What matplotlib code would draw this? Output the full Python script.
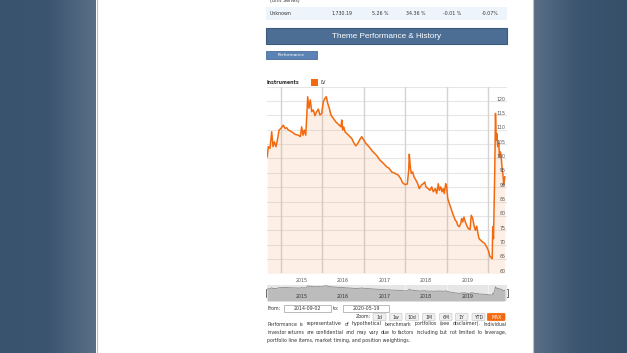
import matplotlib.pyplot as plt
import numpy as np
from matplotlib.patches import Rectangle, FancyBboxPatch
from matplotlib.colors import LinearSegmentedColormap

# LV theme series (decimal years, index value)
years = [2014.682, 2014.706, 2014.747, 2014.788, 2014.820, 2014.851, 2014.892, 2014.933, 2014.964,
         2015.012, 2015.067, 2015.108, 2015.149, 2015.188, 2015.269, 2015.349, 2015.428, 2015.476,
         2015.510, 2015.541, 2015.573, 2015.606, 2015.630, 2015.654, 2015.686, 2015.717, 2015.751,
         2015.789, 2015.830, 2015.871, 2015.910, 2015.950, 2015.991, 2016.030, 2016.071, 2016.102,
         2016.136, 2016.174, 2016.215, 2016.270, 2016.328, 2016.391, 2016.456, 2016.473, 2016.497,
         2016.521, 2016.552, 2016.617, 2016.672, 2016.713, 2016.752, 2016.809, 2016.858, 2016.913,
         2016.954, 2016.992, 2017.057, 2017.129, 2017.209, 2017.315, 2017.394, 2017.474, 2017.555,
         2017.618, 2017.676, 2017.755, 2017.834, 2017.892, 2017.940, 2017.996, 2018.051, 2018.085,
         2018.099, 2018.123, 2018.147, 2018.181, 2018.212, 2018.260, 2018.301, 2018.340, 2018.388,
         2018.436, 2018.470, 2018.501, 2018.556, 2018.597, 2018.638, 2018.677, 2018.725, 2018.758,
         2018.797, 2018.821, 2018.855, 2018.886, 2018.917, 2018.941, 2018.975, 2018.999, 2019.023,
         2019.062, 2019.103, 2019.143, 2019.175, 2019.206, 2019.240, 2019.264, 2019.302, 2019.336,
         2019.360, 2019.384, 2019.415, 2019.447, 2019.480, 2019.519, 2019.560, 2019.591, 2019.625,
         2019.656, 2019.687, 2019.721, 2019.745, 2019.776, 2019.817, 2019.865, 2019.913, 2019.961,
         2020.000, 2020.039, 2020.070, 2020.094, 2020.106, 2020.125, 2020.142, 2020.156, 2020.173,
         2020.190, 2020.204, 2020.228, 2020.252, 2020.269, 2020.293, 2020.317, 2020.334, 2020.349,
         2020.373, 2020.397]
lv_values = [100.6, 104.1, 103.5, 109.3, 104.1, 105.8, 104.1, 107.0, 109.9,
             110.5, 111.6, 110.5, 110.7, 109.9, 109.3, 108.4, 108.1, 107.6,
             111.0, 108.1, 109.9, 108.1, 114.0, 121.5, 117.5, 120.4, 116.3,
             116.9, 114.9, 116.3, 117.2, 115.1, 115.7, 119.8, 121.0, 121.5,
             119.2, 117.5, 115.1, 114.0, 112.8, 111.9, 111.0, 113.4, 109.9,
             111.0, 109.3, 108.4, 107.6, 107.0, 105.8, 104.4, 105.2, 106.7,
             107.6, 106.7, 105.2, 104.1, 102.6, 101.0, 99.4, 98.3, 97.1,
             96.5, 95.3, 94.8, 94.2, 93.0, 91.5, 90.9, 91.1, 96.0,
             101.5, 97.1, 94.8, 95.3, 93.6, 92.4, 91.2, 89.5, 90.7,
             91.2, 91.8, 90.1, 89.5, 88.9, 90.1, 88.4, 89.5, 87.8,
             91.2, 88.9, 90.1, 88.4, 89.5, 87.8, 91.2, 90.1, 86.1,
             84.3, 82.6, 80.8, 79.6, 78.5, 77.9, 76.7, 76.2, 77.3,
             79.1, 77.9, 79.6, 77.9, 76.7, 75.6, 75.2, 80.2, 79.1,
             76.7, 75.0, 76.4, 74.4, 72.1, 71.5, 70.9, 70.4, 69.2,
             68.0, 65.9, 65.5, 65.1, 76.2, 72.0, 85.5, 96.0, 115.7,
             106.4, 108.7, 104.1, 105.3, 100.6, 102.3, 99.4, 96.0, 94.8,
             90.7, 93.6]

year_starts = [2015, 2016, 2017, 2018, 2019, 2020]
year_labels = ['2015', '2016', '2017', '2018', '2019']
y_ticks = list(range(60, 125, 5))

row_cells = ['Unknown', '1,730.19', '5.26 %', '34.36 %', '-0.01 %', '-0.07%']
zoom_buttons = ['1d', '1w', '10d', '1M', '6M', '1Y', 'YTD', 'MAX']
date_from = '2014-09-02'
date_to = '2020-05-19'
note_lines = ['Performance is representative of hypothetical benchmark portfolios (see disclaimer). Individual',
              'investor returns are confidential and may vary due to factors including but not limited to leverage,',
              'portfolio line items, market timing, and position weightings.']

ORANGE = '#f26a10'
W, H = 627, 353
fig = plt.figure(figsize=(W / 100, H / 100), dpi=100)
page = fig.add_axes([0, 0, 1, 1])
page.axis('off')


def fig_rect(x0, y0, x1, y1):
    return [x0 / W, 1 - y1 / H, (x1 - x0) / W, (y1 - y0) / H]


# side gradients
grad_l = LinearSegmentedColormap.from_list('gl', ['#39526e', '#3b546f', '#5a6f87'])
grad_r = LinearSegmentedColormap.from_list('gr', ['#5a6f87', '#3b546f', '#375069'])
g = np.linspace(0, 1, 200).reshape(1, -1)
page.imshow(g, cmap=grad_l, extent=[0, 96, H, 0], aspect='auto')
page.imshow(g, cmap=grad_r, extent=[533, W, H, 0], aspect='auto')
page.plot([96.5, 96.5], [0, H], color='#b8c2cd', lw=0.8)
page.plot([532.8, 532.8], [0, H], color='#b8c2cd', lw=0.8)
page.set_xlim(0, W)
page.set_ylim(H, 0)

small = dict(family='DejaVu Sans', fontsize=3.45, color='#333333')

# table row above
page.text(270, 0.5, '(Unit Series)', va='center', **small)
page.add_patch(Rectangle((266, 7), 241, 13, facecolor='#eef4fb', edgecolor='none'))
cell_x = [270, 342, 380, 416, 452, 490]
for i, (cx, c) in enumerate(zip(cell_x, row_cells)):
    page.text(cx, 13.5, c, ha='left' if i == 0 else 'center', va='center', **small)

# section header
page.add_patch(Rectangle((266, 28.3), 241, 16, facecolor='#4c6e94', edgecolor='#3c5a7c', lw=0.8))
page.text(386.5, 36.6, 'Theme Performance & History', ha='center', va='center',
          family='Liberation Sans', fontsize=5.9, color='white')
page.add_patch(Rectangle((266, 51), 51, 8.3, facecolor='#5b82b5', edgecolor='#4a6d9a', lw=0.6))
page.text(291.5, 55.2, 'Performance', ha='center', va='center', family='DejaVu Sans',
          fontsize=3.1, color='white')

# legend
page.text(267, 82, 'Instruments', ha='left', va='center', family='DejaVu Sans',
          fontsize=3.45, fontweight='bold', color='#333333')
page.add_patch(Rectangle((311, 78.5), 7, 7, facecolor=ORANGE, edgecolor='none'))
page.text(320.5, 82, 'LV', ha='left', va='center', **small)

# main chart
ax = fig.add_axes(fig_rect(267, 86.7, 507, 273.3))
ax.set_xlim(2014.675, 2020.45)
ax.set_ylim(60, 125)
for v in list(y_ticks) + [125]:
    ax.axhline(v, color='#e6e6e6', lw=0.8, zorder=0)
for ys in year_starts:
    ax.axvline(ys, color='#d4d4d4', lw=1.0, zorder=0)
ax.fill_between(years, lv_values, 60, color=ORANGE, alpha=0.1, lw=0, zorder=1)
ax.plot(years, lv_values, color=ORANGE, lw=1.1, zorder=2)
for v in y_ticks:
    ax.text(0.995, v + 0.7, str(v), transform=ax.get_yaxis_transform(), ha='right',
            va='center', family='DejaVu Sans', fontsize=3.45, color='#555555', zorder=3)
ax.set_yticks([])
ax.set_xticks([y + 0.5 for y in year_starts[:-1]])
ax.set_xticklabels(year_labels, family='DejaVu Sans', fontsize=3.45, color='#555555')
ax.tick_params(axis='x', length=0, pad=3.5)
for s in ax.spines.values():
    s.set_visible(False)
ax.set_facecolor('none')

# navigator
nav = fig.add_axes(fig_rect(267, 285, 507, 301))
nav.set_xlim(2014.675, 2020.45)
nav.set_ylim(30, 126)
nav.set_facecolor('#e6e6e6')
for ys in year_starts:
    nav.axvline(ys, color='#f4f4f4', lw=0.6, zorder=0)
nav.fill_between(years, lv_values, 30, color='#bcbcbc', lw=0, zorder=1)
nav.plot(years, lv_values, color='#8c8c8c', lw=0.6, zorder=2)
for ys, lab in zip(year_starts, year_labels):
    nav.text(ys + 0.5, 0.3, lab, transform=nav.get_xaxis_transform(), ha='center', va='center',
             family='DejaVu Sans', fontsize=3.4, color='#333333', zorder=3)
nav.set_xticks([])
nav.set_yticks([])
for s in nav.spines.values():
    s.set_visible(False)
for hx in (265.5, 504.5):
    page.add_patch(Rectangle((hx, 288.8), 3.5, 8, facecolor='#f2f2f2', edgecolor='#555555', lw=0.6, zorder=5))

# range inputs
page.text(267, 308.5, 'From:', ha='left', va='center', **small)
page.add_patch(Rectangle((284, 305), 46.7, 7, facecolor='white', edgecolor='#b0b0b0', lw=0.6))
page.text(307.3, 308.6, date_from, ha='center', va='center', **small)
page.text(333, 308.5, 'to:', ha='left', va='center', **small)
page.add_patch(Rectangle((342.7, 305), 46.6, 7, facecolor='white', edgecolor='#b0b0b0', lw=0.6))
page.text(366, 308.6, date_to, ha='center', va='center', **small)

# zoom buttons
page.text(371.5, 317, 'Zoom:', ha='right', va='center', **small)
btn_pos = [(373, 386), (389.5, 402), (405.5, 418.5), (422.5, 435), (439.5, 452), (455.5, 468),
           (472, 485), (487.3, 505)]
for (bx0, bx1), lab in zip(btn_pos, zoom_buttons):
    sel = lab == 'MAX'
    page.add_patch(FancyBboxPatch((bx0, 313.3), bx1 - bx0, 7.4, boxstyle='round,pad=0,rounding_size=1.2',
                                  facecolor=ORANGE if sel else '#efefef',
                                  edgecolor=ORANGE if sel else '#cccccc', lw=0.5))
    page.text((bx0 + bx1) / 2, 317.1, lab, ha='center', va='center', family='DejaVu Sans',
              fontsize=3.3, color='white' if sel else '#333333')

# justified disclaimer
renderer = fig.canvas.get_renderer()
for i, line in enumerate(note_lines):
    y = 324 + i * 8.3
    if i == len(note_lines) - 1:
        page.text(267, y, line, ha='left', va='center', **small)
        continue
    words = line.split(' ')
    texts = [page.text(0, y, w, ha='left', va='center', **small) for w in words]
    widths = [t.get_window_extent(renderer).width for t in texts]
    gap = (506.5 - 267 - sum(widths)) / (len(words) - 1)
    x = 267
    for t, w in zip(texts, widths):
        t.set_x(x)
        x += w + gap

fig.savefig('out.png', dpi=100)
